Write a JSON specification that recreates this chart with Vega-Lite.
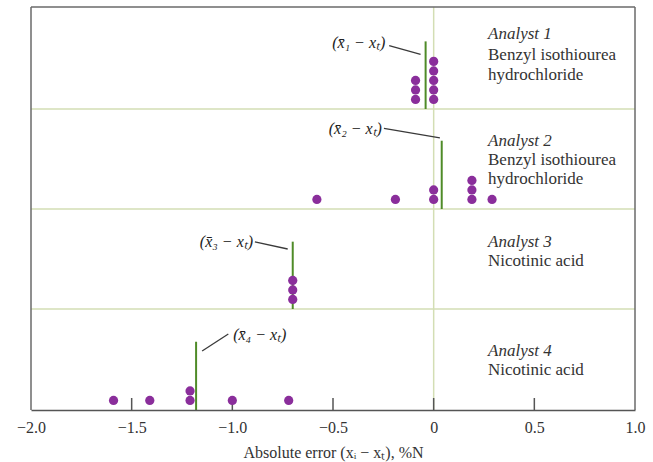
{
  "$schema": "https://vega.github.io/schema/vega-lite/v6.json",
  "background": "white",
  "padding": {"left": 16, "top": 6, "right": 4, "bottom": 2},
  "spacing": 0,
  "bounds": "flush",
  "config": {"view": {"stroke": null}, "font": "Liberation Serif", "text": {"font": "Liberation Serif"}, "concat": {"spacing": 0}},
  "datasets": {
    "errors": [
      {"analyst": 1, "error": -0.09}, {"analyst": 1, "error": -0.09}, {"analyst": 1, "error": -0.09},
      {"analyst": 1, "error": 0.0}, {"analyst": 1, "error": 0.0}, {"analyst": 1, "error": 0.0}, {"analyst": 1, "error": 0.0}, {"analyst": 1, "error": 0.0},
      {"analyst": 2, "error": -0.58}, {"analyst": 2, "error": -0.19},
      {"analyst": 2, "error": 0.0}, {"analyst": 2, "error": 0.0},
      {"analyst": 2, "error": 0.19}, {"analyst": 2, "error": 0.19}, {"analyst": 2, "error": 0.19},
      {"analyst": 2, "error": 0.29},
      {"analyst": 3, "error": -0.70}, {"analyst": 3, "error": -0.70}, {"analyst": 3, "error": -0.70},
      {"analyst": 4, "error": -1.59}, {"analyst": 4, "error": -1.41},
      {"analyst": 4, "error": -1.21}, {"analyst": 4, "error": -1.21},
      {"analyst": 4, "error": -1.00}, {"analyst": 4, "error": -0.72}
    ],
    "analysts": [
      {"analyst": 1, "mean": -0.04, "name": "Analyst 1", "line1": "Benzyl isothiourea", "line2": "hydrochloride", "note": "(x\u0304\u2081 \u2212 x\u209c)"},
      {"analyst": 2, "mean": 0.04, "name": "Analyst 2", "line1": "Benzyl isothiourea", "line2": "hydrochloride", "note": "(x\u0304\u2082 \u2212 x\u209c)"},
      {"analyst": 3, "mean": -0.70, "name": "Analyst 3", "line1": "Nicotinic acid", "line2": "", "note": "(x\u0304\u2083 \u2212 x\u209c)"},
      {"analyst": 4, "mean": -1.18, "name": "Analyst 4", "line1": "Nicotinic acid", "line2": "", "note": "(x\u0304\u2084 \u2212 x\u209c)"}
    ]
  },
  "vconcat": [
    {
      "width": 604, "height": 102,
      "layer": [
        {"data": {"values": [{}]}, "mark": {"type": "rule", "color": "#d3deb4", "strokeWidth": 1.5}, "encoding": {"x": {"datum": 0, "type": "quantitative", "axis": null}}},
        {"data": {"values": [{}]}, "mark": {"type": "rule", "color": "#d3deb4", "strokeWidth": 1.5}, "encoding": {"y": {"datum": 0, "type": "quantitative", "axis": null}}},
        {"data": {"values": [{}]}, "mark": {"type": "rule", "color": "#6a6a6a", "strokeWidth": 1.5}, "encoding": {"x": {"datum": -2, "type": "quantitative", "axis": null}}},
        {"data": {"values": [{}]}, "mark": {"type": "rule", "color": "#6a6a6a", "strokeWidth": 1.5}, "encoding": {"x": {"datum": 1, "type": "quantitative", "axis": null}}},
        {"data": {"values": [{}]}, "mark": {"type": "rule", "color": "#6a6a6a", "strokeWidth": 1.5}, "encoding": {"y": {"datum": 10.71, "type": "quantitative", "axis": null}}},
        {"data": {"name": "analysts"}, "transform": [{"filter": "datum.analyst == 1"}], "mark": {"type": "rule", "color": "#4f8b28", "strokeWidth": 2}, "encoding": {"x": {"field": "mean", "type": "quantitative", "axis": null}, "y": {"datum": 0, "type": "quantitative", "axis": null}, "y2": {"datum": 7.1}}},
        {"data": {"values": [{}]}, "mark": {"type": "rule", "color": "#3a3a3a", "strokeWidth": 1.3}, "encoding": {"x": {"datum": -0.221, "type": "quantitative", "axis": null}, "x2": {"datum": -0.065}, "y": {"datum": 6.65, "type": "quantitative", "axis": null}, "y2": {"datum": 5.74}}},
        {"data": {"name": "analysts"}, "transform": [{"filter": "datum.analyst == 1"}], "mark": {"type": "text", "font": "Liberation Serif", "align": "right", "baseline": "middle", "fontStyle": "italic", "fontSize": 16, "color": "#222"}, "encoding": {"x": {"datum": -0.24, "type": "quantitative", "axis": null}, "y": {"datum": 6.93, "type": "quantitative", "axis": null}, "text": {"field": "note"}}},
        {"data": {"name": "analysts"}, "transform": [{"filter": "datum.analyst == 1"}], "mark": {"type": "text", "font": "Liberation Serif", "align": "left", "baseline": "middle", "fontStyle": "italic", "fontSize": 17, "color": "#333"}, "encoding": {"x": {"datum": 0.27, "type": "quantitative", "axis": null}, "y": {"datum": 7.88, "type": "quantitative", "axis": null}, "text": {"field": "name"}}},
        {"data": {"name": "analysts"}, "transform": [{"filter": "datum.analyst == 1"}], "mark": {"type": "text", "font": "Liberation Serif", "align": "left", "baseline": "middle", "fontSize": 17, "color": "#333"}, "encoding": {"x": {"datum": 0.27, "type": "quantitative", "axis": null}, "y": {"datum": 5.67, "type": "quantitative", "axis": null}, "text": {"field": "line1"}}},
        {"data": {"name": "analysts"}, "transform": [{"filter": "datum.analyst == 1"}], "mark": {"type": "text", "font": "Liberation Serif", "align": "left", "baseline": "middle", "fontSize": 17, "color": "#333"}, "encoding": {"x": {"datum": 0.27, "type": "quantitative", "axis": null}, "y": {"datum": 3.57, "type": "quantitative", "axis": null}, "text": {"field": "line2"}}},
        {"data": {"name": "errors"}, "transform": [{"filter": "datum.analyst == 1"}, {"window": [{"op": "row_number", "as": "rank"}], "groupby": ["error"]}], "mark": {"type": "circle", "size": 85, "opacity": 1, "color": "#8a2e9b"}, "encoding": {"x": {"field": "error", "type": "quantitative", "scale": {"domain": [-2, 1], "nice": false, "zero": false}, "axis": null}, "y": {"field": "rank", "type": "quantitative", "scale": {"domain": [0, 10.71], "nice": false, "zero": false}, "axis": null}}}
      ]
    },
    {
      "width": 604, "height": 100,
      "layer": [
        {"data": {"values": [{}]}, "mark": {"type": "rule", "color": "#d3deb4", "strokeWidth": 1.5}, "encoding": {"x": {"datum": 0, "type": "quantitative", "axis": null}}},
        {"data": {"values": [{}]}, "mark": {"type": "rule", "color": "#d3deb4", "strokeWidth": 1.5}, "encoding": {"y": {"datum": 0, "type": "quantitative", "axis": null}}},
        {"data": {"values": [{}]}, "mark": {"type": "rule", "color": "#6a6a6a", "strokeWidth": 1.5}, "encoding": {"x": {"datum": -2, "type": "quantitative", "axis": null}}},
        {"data": {"values": [{}]}, "mark": {"type": "rule", "color": "#6a6a6a", "strokeWidth": 1.5}, "encoding": {"x": {"datum": 1, "type": "quantitative", "axis": null}}},
        {"data": {"name": "analysts"}, "transform": [{"filter": "datum.analyst == 2"}], "mark": {"type": "rule", "color": "#4f8b28", "strokeWidth": 2}, "encoding": {"x": {"field": "mean", "type": "quantitative", "axis": null}, "y": {"datum": 0, "type": "quantitative", "axis": null}, "y2": {"datum": 7.17}}},
        {"data": {"values": [{}]}, "mark": {"type": "rule", "color": "#3a3a3a", "strokeWidth": 1.3}, "encoding": {"x": {"datum": -0.247, "type": "quantitative", "axis": null}, "x2": {"datum": 0.031}, "y": {"datum": 8.47, "type": "quantitative", "axis": null}, "y2": {"datum": 7.46}}},
        {"data": {"name": "analysts"}, "transform": [{"filter": "datum.analyst == 2"}], "mark": {"type": "text", "font": "Liberation Serif", "align": "right", "baseline": "middle", "fontStyle": "italic", "fontSize": 16, "color": "#222"}, "encoding": {"x": {"datum": -0.257, "type": "quantitative", "axis": null}, "y": {"datum": 8.37, "type": "quantitative", "axis": null}, "text": {"field": "note"}}},
        {"data": {"name": "analysts"}, "transform": [{"filter": "datum.analyst == 2"}], "mark": {"type": "text", "font": "Liberation Serif", "align": "left", "baseline": "middle", "fontStyle": "italic", "fontSize": 17, "color": "#333"}, "encoding": {"x": {"datum": 0.27, "type": "quantitative", "axis": null}, "y": {"datum": 7.12, "type": "quantitative", "axis": null}, "text": {"field": "name"}}},
        {"data": {"name": "analysts"}, "transform": [{"filter": "datum.analyst == 2"}], "mark": {"type": "text", "font": "Liberation Serif", "align": "left", "baseline": "middle", "fontSize": 17, "color": "#333"}, "encoding": {"x": {"datum": 0.27, "type": "quantitative", "axis": null}, "y": {"datum": 5.13, "type": "quantitative", "axis": null}, "text": {"field": "line1"}}},
        {"data": {"name": "analysts"}, "transform": [{"filter": "datum.analyst == 2"}], "mark": {"type": "text", "font": "Liberation Serif", "align": "left", "baseline": "middle", "fontSize": 17, "color": "#333"}, "encoding": {"x": {"datum": 0.27, "type": "quantitative", "axis": null}, "y": {"datum": 3.18, "type": "quantitative", "axis": null}, "text": {"field": "line2"}}},
        {"data": {"name": "errors"}, "transform": [{"filter": "datum.analyst == 2"}, {"window": [{"op": "row_number", "as": "rank"}], "groupby": ["error"]}], "mark": {"type": "circle", "size": 85, "opacity": 1, "color": "#8a2e9b"}, "encoding": {"x": {"field": "error", "type": "quantitative", "scale": {"domain": [-2, 1], "nice": false, "zero": false}, "axis": null}, "y": {"field": "rank", "type": "quantitative", "scale": {"domain": [0, 10.5], "nice": false, "zero": false}, "axis": null}}}
      ]
    },
    {
      "width": 604, "height": 100,
      "layer": [
        {"data": {"values": [{}]}, "mark": {"type": "rule", "color": "#d3deb4", "strokeWidth": 1.5}, "encoding": {"x": {"datum": 0, "type": "quantitative", "axis": null}}},
        {"data": {"values": [{}]}, "mark": {"type": "rule", "color": "#d3deb4", "strokeWidth": 1.5}, "encoding": {"y": {"datum": 0, "type": "quantitative", "axis": null}}},
        {"data": {"values": [{}]}, "mark": {"type": "rule", "color": "#6a6a6a", "strokeWidth": 1.5}, "encoding": {"x": {"datum": -2, "type": "quantitative", "axis": null}}},
        {"data": {"values": [{}]}, "mark": {"type": "rule", "color": "#6a6a6a", "strokeWidth": 1.5}, "encoding": {"x": {"datum": 1, "type": "quantitative", "axis": null}}},
        {"data": {"name": "analysts"}, "transform": [{"filter": "datum.analyst == 3"}], "mark": {"type": "rule", "color": "#4f8b28", "strokeWidth": 2}, "encoding": {"x": {"field": "mean", "type": "quantitative", "axis": null}, "y": {"datum": 0, "type": "quantitative", "axis": null}, "y2": {"datum": 7.07}}},
        {"data": {"values": [{}]}, "mark": {"type": "rule", "color": "#3a3a3a", "strokeWidth": 1.3}, "encoding": {"x": {"datum": -0.888, "type": "quantitative", "axis": null}, "x2": {"datum": -0.725}, "y": {"datum": 7.04, "type": "quantitative", "axis": null}, "y2": {"datum": 6.3}}},
        {"data": {"name": "analysts"}, "transform": [{"filter": "datum.analyst == 3"}], "mark": {"type": "text", "font": "Liberation Serif", "align": "right", "baseline": "middle", "fontStyle": "italic", "fontSize": 16, "color": "#222"}, "encoding": {"x": {"datum": -0.897, "type": "quantitative", "axis": null}, "y": {"datum": 7.07, "type": "quantitative", "axis": null}, "text": {"field": "note"}}},
        {"data": {"name": "analysts"}, "transform": [{"filter": "datum.analyst == 3"}], "mark": {"type": "text", "font": "Liberation Serif", "align": "left", "baseline": "middle", "fontStyle": "italic", "fontSize": 17, "color": "#333"}, "encoding": {"x": {"datum": 0.27, "type": "quantitative", "axis": null}, "y": {"datum": 7.07, "type": "quantitative", "axis": null}, "text": {"field": "name"}}},
        {"data": {"name": "analysts"}, "transform": [{"filter": "datum.analyst == 3"}], "mark": {"type": "text", "font": "Liberation Serif", "align": "left", "baseline": "middle", "fontSize": 17, "color": "#333"}, "encoding": {"x": {"datum": 0.27, "type": "quantitative", "axis": null}, "y": {"datum": 5.04, "type": "quantitative", "axis": null}, "text": {"field": "line1"}}},
        {"data": {"name": "errors"}, "transform": [{"filter": "datum.analyst == 3"}, {"window": [{"op": "row_number", "as": "rank"}], "groupby": ["error"]}], "mark": {"type": "circle", "size": 85, "opacity": 1, "color": "#8a2e9b"}, "encoding": {"x": {"field": "error", "type": "quantitative", "scale": {"domain": [-2, 1], "nice": false, "zero": false}, "axis": null}, "y": {"field": "rank", "type": "quantitative", "scale": {"domain": [0, 10.5], "nice": false, "zero": false}, "axis": null}}}
      ]
    },
    {
      "width": 604, "height": 101,
      "layer": [
        {"data": {"values": [{}]}, "mark": {"type": "rule", "color": "#d3deb4", "strokeWidth": 1.5}, "encoding": {"x": {"datum": 0, "type": "quantitative"}}},
        {"data": {"values": [{}]}, "mark": {"type": "rule", "color": "#6a6a6a", "strokeWidth": 1.5}, "encoding": {"x": {"datum": -2, "type": "quantitative"}}},
        {"data": {"values": [{}]}, "mark": {"type": "rule", "color": "#6a6a6a", "strokeWidth": 1.5}, "encoding": {"x": {"datum": 1, "type": "quantitative"}}},
        {"data": {"values": [{}]}, "mark": {"type": "rule", "color": "#555", "strokeWidth": 1.5}, "encoding": {"x": {"datum": -1.5, "type": "quantitative"}, "y": {"datum": 0, "type": "quantitative", "axis": null}, "y2": {"datum": 1.26}}},
        {"data": {"values": [{}]}, "mark": {"type": "rule", "color": "#555", "strokeWidth": 1.5}, "encoding": {"x": {"datum": -1, "type": "quantitative"}, "y": {"datum": 0, "type": "quantitative", "axis": null}, "y2": {"datum": 1.26}}},
        {"data": {"values": [{}]}, "mark": {"type": "rule", "color": "#555", "strokeWidth": 1.5}, "encoding": {"x": {"datum": -0.5, "type": "quantitative"}, "y": {"datum": 0, "type": "quantitative", "axis": null}, "y2": {"datum": 1.26}}},
        {"data": {"values": [{}]}, "mark": {"type": "rule", "color": "#555", "strokeWidth": 1.5}, "encoding": {"x": {"datum": 0, "type": "quantitative"}, "y": {"datum": 0, "type": "quantitative", "axis": null}, "y2": {"datum": 1.26}}},
        {"data": {"values": [{}]}, "mark": {"type": "rule", "color": "#555", "strokeWidth": 1.5}, "encoding": {"x": {"datum": 0.5, "type": "quantitative"}, "y": {"datum": 0, "type": "quantitative", "axis": null}, "y2": {"datum": 1.26}}},
        {"data": {"name": "analysts"}, "transform": [{"filter": "datum.analyst == 4"}], "mark": {"type": "rule", "color": "#4f8b28", "strokeWidth": 2}, "encoding": {"x": {"field": "mean", "type": "quantitative"}, "y": {"datum": 0, "type": "quantitative", "axis": null}, "y2": {"datum": 7.17}}},
        {"data": {"values": [{}]}, "mark": {"type": "rule", "color": "#3a3a3a", "strokeWidth": 1.3}, "encoding": {"x": {"datum": -1.15, "type": "quantitative"}, "x2": {"datum": -1.02}, "y": {"datum": 6.2, "type": "quantitative", "axis": null}, "y2": {"datum": 7.98}}},
        {"data": {"name": "analysts"}, "transform": [{"filter": "datum.analyst == 4"}], "mark": {"type": "text", "font": "Liberation Serif", "align": "left", "baseline": "middle", "fontStyle": "italic", "fontSize": 16, "color": "#222"}, "encoding": {"x": {"datum": -0.996, "type": "quantitative"}, "y": {"datum": 7.88, "type": "quantitative", "axis": null}, "text": {"field": "note"}}},
        {"data": {"name": "analysts"}, "transform": [{"filter": "datum.analyst == 4"}], "mark": {"type": "text", "font": "Liberation Serif", "align": "left", "baseline": "middle", "fontStyle": "italic", "fontSize": 17, "color": "#333"}, "encoding": {"x": {"datum": 0.27, "type": "quantitative"}, "y": {"datum": 6.2, "type": "quantitative", "axis": null}, "text": {"field": "name"}}},
        {"data": {"name": "analysts"}, "transform": [{"filter": "datum.analyst == 4"}], "mark": {"type": "text", "font": "Liberation Serif", "align": "left", "baseline": "middle", "fontSize": 17, "color": "#333"}, "encoding": {"x": {"datum": 0.27, "type": "quantitative"}, "y": {"datum": 4.2, "type": "quantitative", "axis": null}, "text": {"field": "line1"}}},
        {"data": {"name": "errors"}, "transform": [{"filter": "datum.analyst == 4"}, {"window": [{"op": "row_number", "as": "rank"}], "groupby": ["error"]}], "mark": {"type": "circle", "size": 85, "opacity": 1, "color": "#8a2e9b"}, "encoding": {
          "x": {"field": "error", "type": "quantitative", "scale": {"domain": [-2, 1], "nice": false, "zero": false},
            "axis": {"values": [-2, -1.5, -1, -0.5, 0, 0.5, 1], "ticks": false, "domainColor": "#555", "domainWidth": 1.5, "labelFont": "Liberation Serif", "labelFontSize": 16, "labelColor": "#333", "labelPadding": 9, "labelExpr": "datum.value == 0 ? '0' : replace(format(datum.value, '.1f'), '-', '\u2212')", "labelFlush": false, "labelOverlap": false, "grid": false, "title": "Absolute error (x\u1d62 \u2212 x\u209c), %N", "titleFont": "Liberation Serif", "titleFontSize": 16, "titleFontWeight": "normal", "titleColor": "#333", "titlePadding": 9, "zindex": 1}},
          "y": {"field": "rank", "type": "quantitative", "scale": {"domain": [0, 10.61], "nice": false, "zero": false}, "axis": null}}}
      ]
    }
  ]
}
